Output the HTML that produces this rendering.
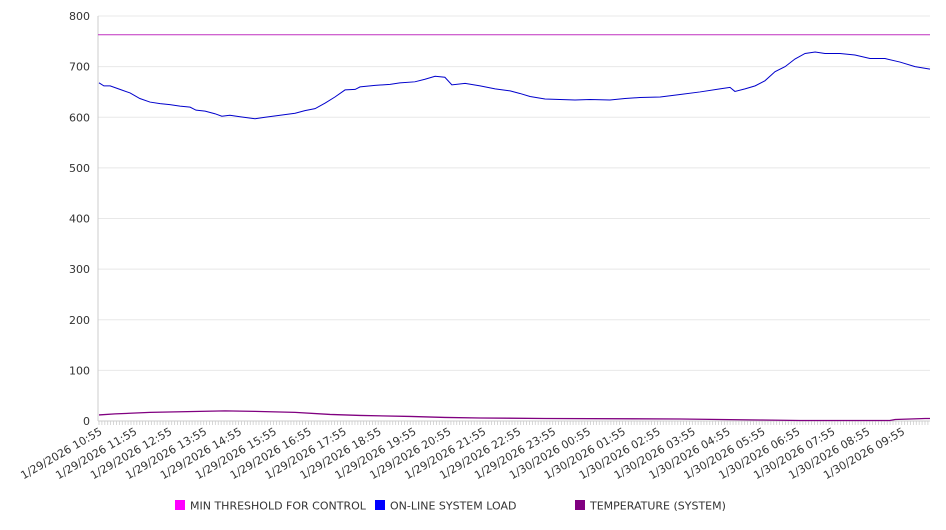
<!DOCTYPE html>
<html><head><meta charset="utf-8"><style>
body{margin:0;background:#fff;font-family:"DejaVu Sans","Liberation Sans",sans-serif}
svg text{font-family:"DejaVu Sans","Liberation Sans",sans-serif;fill:#333}
</style></head><body>
<svg id="c" width="946" height="526"></svg>
<script>
const yTicks=[0,100,200,300,400,500,600,700,800];
const xLabels=["1/29/2026 10:55","1/29/2026 11:55","1/29/2026 12:55","1/29/2026 13:55","1/29/2026 14:55","1/29/2026 15:55","1/29/2026 16:55","1/29/2026 17:55","1/29/2026 18:55","1/29/2026 19:55","1/29/2026 20:55","1/29/2026 21:55","1/29/2026 22:55","1/29/2026 23:55","1/30/2026 00:55","1/30/2026 01:55","1/30/2026 02:55","1/30/2026 03:55","1/30/2026 04:55","1/30/2026 05:55","1/30/2026 06:55","1/30/2026 07:55","1/30/2026 08:55","1/30/2026 09:55"];
const loadHours=[0,.14,.32,.6,.89,1.17,1.46,1.75,2.03,2.32,2.61,2.78,3.04,3.32,3.52,3.75,4.04,4.47,4.76,5.19,5.62,5.9,6.19,6.48,6.76,7.05,7.34,7.48,7.91,8.34,8.62,9.05,9.34,9.63,9.91,10.11,10.49,10.92,11.35,11.78,12.06,12.35,12.78,13.21,13.64,14.07,14.64,15.07,15.5,16.08,16.65,17.22,17.79,18.08,18.22,18.51,18.8,19.08,19.37,19.66,19.94,20.23,20.52,20.8,21.23,21.66,22.09,22.52,22.95,23.38,23.81];
const loadValues=[668,662,662,655,648,637,630,627,625,622,620,614,612,607,602,604,601,597,600,604,608,613,617,628,640,654,655,660,663,665,668,670,675,681,679,664,667,662,656,652,647,641,636,635,634,635,634,637,639,640,645,650,656,659,651,656,662,672,690,700,715,726,729,726,726,723,716,716,709,700,695];
const tempHours=[0,.46,1.46,2.18,3.61,4.47,5.62,6.62,7.48,8.91,9.91,10.92,12.78,16.65,18.94,20.09,22.66,22.81,23.67,23.81];
const tempValues=[12,14,17,18,20,19,17,13,11,9,7,6,5,4,2,1,1,3,5,5];
const thresholdValue=763;
const xMax=23.81;
const L=98,R=930,T=16,B=421;
const X=h=>L+1+h/xMax*(R-L-1), Y=v=>B-v/800*(B-T);
const s=document.getElementById('c'),NS='http://www.w3.org/2000/svg';
function mk(t,a,p){const e=document.createElementNS(NS,t);for(const k in a)e.setAttribute(k,a[k]);(p||s).appendChild(e);return e;}
yTicks.forEach(v=>{
 const g=mk('line',{x1:L,x2:R,y1:Y(v),y2:Y(v),stroke:v?'#e8e8e8':'#ccc'});
 
 
 const t=mk('text',{x:90,y:Y(v)+4,'text-anchor':'end','font-size':11});t.textContent=v;
 
 
});
const ax=mk('line',{x1:L,x2:L,y1:T,y2:B,stroke:'#ccc'});


for(let h=0;h<=xMax;h+=1/12){mk('line',{x1:X(h),x2:X(h),y1:B,y2:B+4,stroke:'#ccc','stroke-width':.8});}
xLabels.forEach((l,i)=>{
 const x=X(i),y=B+6;
 const t=mk('text',{x:x,y:y,'text-anchor':'end','font-size':11,transform:`rotate(-30 ${x} ${y})`,dy:'0.7em'});
 t.textContent=l;
 
 
});
const th=mk('line',{x1:L,x2:R,y1:Y(thresholdValue),y2:Y(thresholdValue),stroke:'#c030c0','stroke-width':1});


const lp=mk('polyline',{points:loadHours.map((h,i)=>X(h)+','+Y(loadValues[i])).join(' '),fill:'none',stroke:'#0000cc','stroke-width':1});


const tp=mk('polyline',{points:tempHours.map((h,i)=>X(h)+','+Y(tempValues[i])).join(' '),fill:'none',stroke:'#800080','stroke-width':1.3});


[["MIN THRESHOLD FOR CONTROL","#ff00ff",175],["ON-LINE SYSTEM LOAD","#0000ff",375],["TEMPERATURE (SYSTEM)","#800080",575]].forEach(([n,c,x])=>{
 const g=mk('g',{});
 
 
 mk('rect',{x:x,y:500,width:10,height:10,fill:c},g);
 const t=mk('text',{x:x+15,y:509.5,'font-size':11},g);t.textContent=n;
});
</script>
</body></html>
